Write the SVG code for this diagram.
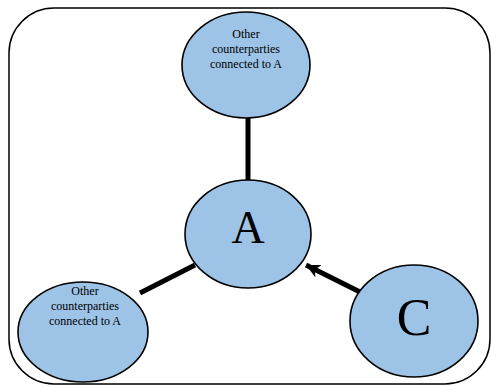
<svg xmlns="http://www.w3.org/2000/svg" width="492" height="387" viewBox="0 0 492 387">
<style>
.node{fill:#9dc3e6;stroke:#000;stroke-width:1.6}
.small{font-family:"Liberation Serif",serif;font-size:12px;text-anchor:middle;fill:#000}
.big{font-family:"Liberation Serif",serif;text-anchor:middle;fill:#000}
.conn{stroke:#000;stroke-width:5;fill:none}
</style>
<defs>
<marker id="arr" markerUnits="userSpaceOnUse" markerWidth="16" markerHeight="16" refX="14" refY="8" orient="auto">
<path d="M0,1 L14,8 L0,15 L4,8 Z" fill="#000"/>
</marker>
</defs>
<rect x="9" y="8" width="481" height="376" rx="45" ry="45" fill="none" stroke="#000" stroke-width="1.5"/>
<g id="connectors">
<line class="conn" x1="248" y1="118" x2="248" y2="181"/>
<line class="conn" x1="140" y1="293" x2="195" y2="265"/>
<line class="conn" x1="360" y1="292" x2="306" y2="265" marker-end="url(#arr)"/>
</g>
<g id="top">
<ellipse class="node" cx="246" cy="65" rx="64" ry="53"/>
<text class="small" x="246" y="38">Other</text>
<text class="small" x="246" y="53">counterparties</text>
<text class="small" x="246" y="68">connected to A</text>
</g>
<g id="A">
<ellipse class="node" cx="248" cy="234" rx="63" ry="54"/>
<text class="big" x="248" y="243" font-size="46">A</text>
</g>
<g id="left">
<ellipse class="node" cx="83" cy="332" rx="65" ry="50"/>
<text class="small" x="85" y="295">Other</text>
<text class="small" x="85" y="310">counterparties</text>
<text class="small" x="85" y="325">connected to A</text>
</g>
<g id="C">
<ellipse class="node" cx="414" cy="321" rx="64" ry="56"/>
<text class="big" x="414" y="335" font-size="52">C</text>
</g>
</svg>
